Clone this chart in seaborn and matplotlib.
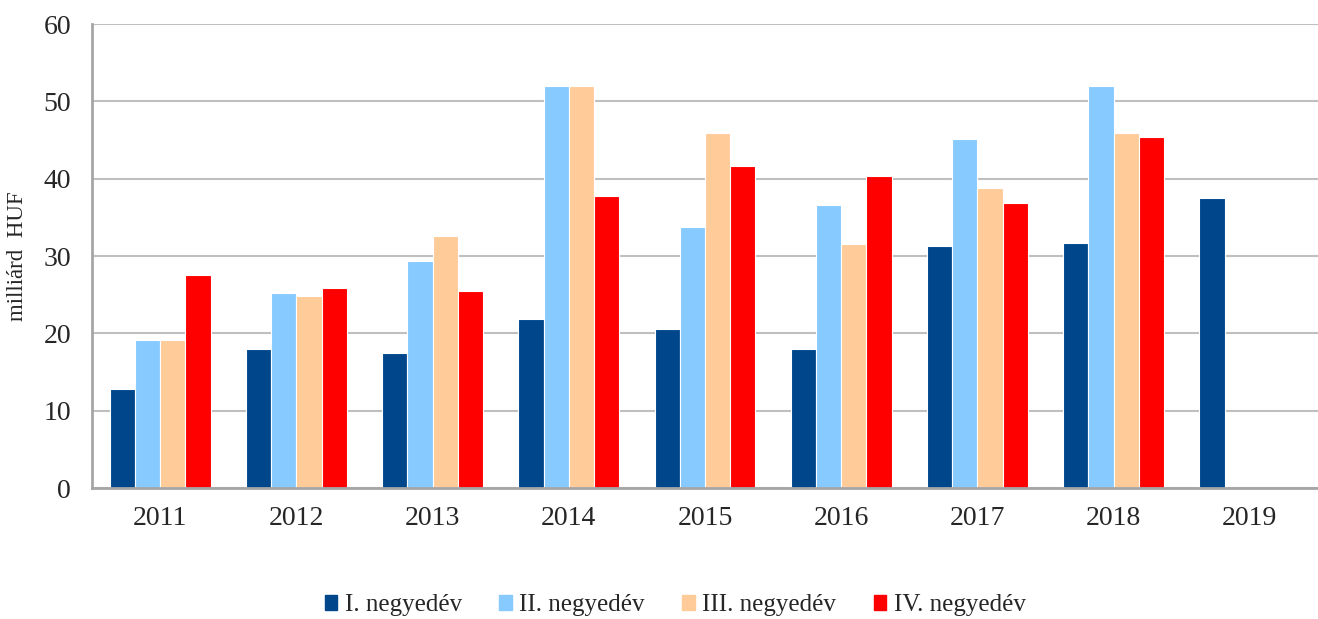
import matplotlib
matplotlib.use("Agg")
import matplotlib.pyplot as plt
import numpy as np
import pandas as pd
import seaborn as sns

years = ["2011", "2012", "2013", "2014", "2015", "2016", "2017", "2018", "2019"]
quarters = ["I. negyedév", "II. negyedév", "III. negyedév", "IV. negyedév"]
q1 = [12.8, 18.0, 17.4, 21.8, 20.5, 18.0, 31.3, 31.7, 37.5]
q2 = [19.2, 25.2, 29.3, 52.0, 33.8, 36.6, 45.1, 52.0, np.nan]
q3 = [19.2, 24.8, 32.6, 52.0, 45.9, 31.5, 38.8, 45.9, np.nan]
q4 = [27.5, 25.8, 25.5, 37.8, 41.6, 40.4, 36.8, 45.4, np.nan]
colors = ["#00468B", "#87CAFF", "#FFCC99", "#FF0000"]

df = pd.DataFrame({"year": years * 4,
                   "quarter": np.repeat(quarters, len(years)),
                   "value": q1 + q2 + q3 + q4})

sns.set_style("white")
plt.rcParams["font.family"] = ["Liberation Serif", "DejaVu Serif"]

fig = plt.figure(figsize=(13.18, 6.19), dpi=100)
ax = fig.add_axes([92 / 1318, 1 - 488 / 619, 1 - 92 / 1318, (488 - 24) / 619])

sns.barplot(data=df, x="year", y="value", hue="quarter", order=years,
            hue_order=quarters, palette=colors, saturation=1, width=0.74,
            edgecolor="white", linewidth=0.8, ax=ax, legend=True)

ax.set_ylim(0, 60)
ax.set_yticks(range(0, 61, 10))
ax.grid(axis="y", color="#BFBFBF", linewidth=1.5)
ax.set_axisbelow(True)
for s in ["top", "right"]:
    ax.spines[s].set_visible(False)
for s in ["left", "bottom"]:
    ax.spines[s].set_color("#A6A6A6")
    ax.spines[s].set_linewidth(2)
ax.tick_params(axis="both", length=0, labelsize=20)
ax.tick_params(axis="y", pad=15)
ax.tick_params(axis="x", pad=13)
ax.set_xlabel("")
ax.set_ylabel("milliárd  HUF", fontsize=16.5)
ax.yaxis.set_label_coords(-0.052, 0.5)

ax.legend_.remove()
handles = [plt.Rectangle((0, 0), 1, 1, color=c) for c in colors]
fig.legend(handles, quarters, loc="center", bbox_to_anchor=(675 / 1318, 0.022),
           ncol=4, frameon=False, fontsize=18, handlelength=0.5, handleheight=0.5,
           handletextpad=0.3, columnspacing=1.5)

fig.savefig("out.png", dpi=100)
